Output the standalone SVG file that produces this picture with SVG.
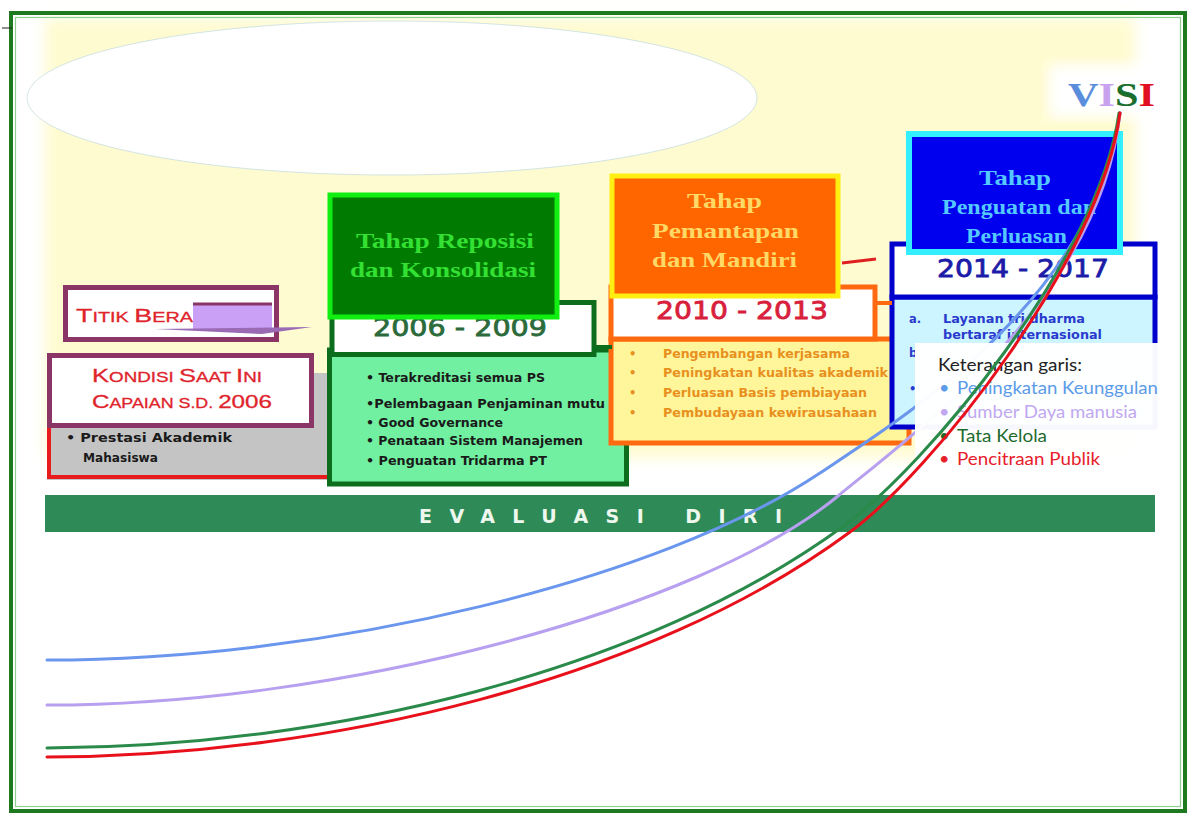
<svg xmlns="http://www.w3.org/2000/svg" width="1188" height="814" viewBox="0 0 1188 814">
<defs>
<filter id="soft" x="-5%" y="-10%" width="110%" height="120%"><feGaussianBlur stdDeviation="7"/></filter>
<style>
.tahap{font-family:"Liberation Serif",serif;font-weight:bold;font-size:22px;text-anchor:start}
.year{font-family:"DejaVu Sans",sans-serif;font-size:25px;stroke-width:0.8}
.li{font-family:"DejaVu Sans",sans-serif;font-weight:bold;font-size:11.5px}
.sc{font-family:"Liberation Sans",sans-serif;fill:#e0242c;stroke:#e0242c;stroke-width:0.3}
.leg{font-family:Lato,"Liberation Sans",sans-serif;font-size:18px}
.curve{fill:none;stroke-width:3;stroke-linecap:round}
</style>
</defs>
<rect x="0" y="0" width="1188" height="814" fill="#ffffff"/>
<g id="background">
<rect x="45" y="18" width="1090" height="440" fill="#fffbd0" filter="url(#soft)"/>
<ellipse cx="392" cy="98" rx="365" ry="77" fill="#ffffff" stroke="#c8dde0" stroke-width="0.8"/>
<rect x="11" y="13" width="1174" height="798" fill="none" stroke="#1e7a1e" stroke-width="4"/>
<rect x="15.5" y="17.5" width="1165" height="789" fill="none" stroke="#8fd08f" stroke-width="1.2"/>
<line x1="2" y1="28" x2="12" y2="28" stroke="#222" stroke-width="1"/>
</g>
<g id="visi">
<rect x="1048" y="64" width="120" height="54" fill="#ffffff" filter="url(#soft)"/>
<text x="1068" y="106" font-family="'Liberation Serif',serif" font-weight="bold" font-size="34" textLength="87" lengthAdjust="spacingAndGlyphs"><tspan fill="#5a8edc">V</tspan><tspan fill="#c8a2ee">I</tspan><tspan fill="#1a6e2e">S</tspan><tspan fill="#e01020">I</tspan></text>
</g>
<g id="evaluasi-diri">
<rect x="45" y="495" width="1110" height="37" fill="#2e8b57"/>
<text x="419" y="523" font-family="'DejaVu Sans',sans-serif" font-weight="bold" font-size="19" fill="#eef8ee" textLength="363" lengthAdjust="spacing">EVALUASI DIRI</text>
</g>
<g id="kondisi">
<rect x="47" y="373" width="282" height="107" fill="#c4c4c4"/>
<polyline points="49,425 49,477 329,477" fill="none" stroke="#e81c1c" stroke-width="4"/>
<rect x="49.5" y="355.5" width="262" height="70" fill="#ffffff" stroke="#8b3466" stroke-width="5"/>
<text class="sc" x="92" y="382" textLength="170" lengthAdjust="spacingAndGlyphs"><tspan font-size="19">K</tspan><tspan font-size="14">ONDISI </tspan><tspan font-size="19">S</tspan><tspan font-size="14">AAT </tspan><tspan font-size="19">I</tspan><tspan font-size="14">NI</tspan></text>
<text class="sc" x="92" y="408" textLength="180" lengthAdjust="spacingAndGlyphs"><tspan font-size="19">C</tspan><tspan font-size="14">APAIAN S.D. </tspan><tspan font-size="19">2006</tspan></text>
<text class="li" x="66" y="442" fill="#1a1a1a" font-size="13" textLength="166" lengthAdjust="spacingAndGlyphs">• Prestasi Akademik</text>
<text class="li" x="83" y="462" fill="#1a1a1a" font-size="13" textLength="75" lengthAdjust="spacingAndGlyphs">Mahasiswa</text>
</g>
<g id="titik-berangkat">
<rect x="65.5" y="287.5" width="211" height="52" fill="#ffffff" stroke="#8b3466" stroke-width="5"/>
<text class="sc" x="76" y="322" textLength="117" lengthAdjust="spacingAndGlyphs"><tspan font-size="19">T</tspan><tspan font-size="14">ITIK </tspan><tspan font-size="19">B</tspan><tspan font-size="14">ERA</tspan></text>
</g>
<g id="tahap-2006">
<rect x="329.5" y="350" width="297" height="134" fill="#70f0a0" stroke="#0c6e1c" stroke-width="5"/>
<rect x="332" y="302.5" width="262" height="52" fill="#ffffff" stroke="#0c6e1c" stroke-width="5"/>
<text class="year" x="373" y="336" fill="#2b6b3b" stroke="#2b6b3b" textLength="174" lengthAdjust="spacingAndGlyphs">2006 - 2009</text>
<rect x="330" y="195" width="227" height="122" fill="#007a00" stroke="#11ee11" stroke-width="5"/>
<text class="tahap" x="356" y="248" fill="#33e033" textLength="178" lengthAdjust="spacingAndGlyphs">Tahap Reposisi</text>
<text class="tahap" x="350" y="277" fill="#33e033" textLength="186" lengthAdjust="spacingAndGlyphs">dan Konsolidasi</text>
<text class="li" x="366" y="382" fill="#1a1a1a" textLength="179" lengthAdjust="spacingAndGlyphs">• Terakreditasi semua PS</text>
<text class="li" x="366" y="408" fill="#1a1a1a" textLength="239" lengthAdjust="spacingAndGlyphs">•Pelembagaan Penjaminan mutu</text>
<text class="li" x="366" y="427" fill="#1a1a1a" textLength="137" lengthAdjust="spacingAndGlyphs">• Good Governance</text>
<text class="li" x="366" y="445" fill="#1a1a1a" textLength="217" lengthAdjust="spacingAndGlyphs">• Penataan Sistem Manajemen</text>
<text class="li" x="366" y="465" fill="#1a1a1a" textLength="181" lengthAdjust="spacingAndGlyphs">• Penguatan Tridarma PT</text>
</g>
<g id="tahap-2010">
<rect x="611" y="339" width="298" height="104" fill="#fff59a" stroke="#ff6a10" stroke-width="5"/>
<rect x="611" y="287" width="264" height="52" fill="#ffffff" stroke="#ff6a10" stroke-width="5"/>
<text class="year" x="656" y="319" fill="#d8203c" stroke="#d8203c" textLength="172" lengthAdjust="spacingAndGlyphs">2010 - 2013</text>
<rect x="612" y="176" width="226" height="120" fill="#ff6600" stroke="#ffee11" stroke-width="5"/>
<text class="tahap" x="687" y="208" fill="#ffd966" textLength="75" lengthAdjust="spacingAndGlyphs">Tahap</text>
<text class="tahap" x="652" y="238" fill="#ffd966" textLength="147" lengthAdjust="spacingAndGlyphs">Pemantapan</text>
<text class="tahap" x="652" y="267" fill="#ffd966" textLength="145" lengthAdjust="spacingAndGlyphs">dan Mandiri</text>
<g class="li" fill="#e8901e">
<text x="629" y="358">•</text><text x="663" y="358" textLength="187" lengthAdjust="spacingAndGlyphs">Pengembangan kerjasama</text>
<text x="629" y="377">•</text><text x="663" y="377" textLength="225" lengthAdjust="spacingAndGlyphs">Peningkatan kualitas akademik</text>
<text x="629" y="397">•</text><text x="663" y="397" textLength="204" lengthAdjust="spacingAndGlyphs">Perluasan Basis pembiayaan</text>
<text x="629" y="417">•</text><text x="663" y="417" textLength="214" lengthAdjust="spacingAndGlyphs">Pembudayaan kewirausahaan</text>
</g>
</g>
<g id="tahap-2014">
<rect x="892" y="297" width="263" height="130" fill="#ccf5ff" stroke="#0000cc" stroke-width="5"/>
<rect x="892" y="244" width="263" height="53" fill="#ffffff" stroke="#0000cc" stroke-width="5"/>
<text class="year" x="937" y="277" fill="#1c1ca8" stroke="#1c1ca8" textLength="172" lengthAdjust="spacingAndGlyphs">2014 - 2017</text>
<rect x="909" y="134" width="211" height="118" fill="#0000ee" stroke="#33eeff" stroke-width="6"/>
<text class="tahap" x="979" y="185" font-size="21" fill="#55c8ff" textLength="72" lengthAdjust="spacingAndGlyphs">Tahap</text>
<text class="tahap" x="942" y="214" font-size="21" fill="#55c8ff" textLength="154" lengthAdjust="spacingAndGlyphs">Penguatan dan</text>
<text class="tahap" x="966" y="243" font-size="21" fill="#55c8ff" textLength="101" lengthAdjust="spacingAndGlyphs">Perluasan</text>
<g class="li" fill="#2a3acc" font-size="11">
<text x="909" y="323">a.</text><text x="943" y="323" textLength="142" lengthAdjust="spacingAndGlyphs">Layanan tri dharma</text>
<text x="943" y="339" textLength="159" lengthAdjust="spacingAndGlyphs">bertaraf internasional</text>
<text x="909" y="357">b</text>
<text x="909" y="393">•</text>
</g>
</g>
<g id="connectors">
<line x1="595" y1="347" x2="612" y2="347" stroke="#0c6e1c" stroke-width="4"/>
<line x1="877" y1="303" x2="892" y2="303" stroke="#ff6a10" stroke-width="4"/>
<line x1="842" y1="263" x2="876" y2="259" stroke="#e02020" stroke-width="3"/>
<rect x="193" y="303" width="79" height="27" fill="#c9a0f5"/>
<line x1="193" y1="304" x2="272" y2="304" stroke="#8b3466" stroke-width="3"/>
<path d="M155,329 L312,327 L262,334 Z" fill="#9a6ab5"/>
<path class="curve" d="M47,660 C330,660 660,580 820,473 C900,419.5 1095,300 1120,113" stroke="#6a96ee"/>
<path class="curve" d="M47,705 C340,705 700,610 838,496 C908,438 1100,300 1120,113" stroke="#b8a0f0"/>
</g>
<g id="legend">
<rect x="915" y="343" width="253" height="142" fill="#ffffff" opacity="0.97"/>
<text class="leg" x="938" y="371" fill="#222222" textLength="144" lengthAdjust="spacingAndGlyphs">Keterangan garis:</text>
<text class="leg" x="939" y="394" fill="#5b9be8">•</text><text class="leg" x="957" y="394" fill="#5b9be8" textLength="201" lengthAdjust="spacingAndGlyphs">Peningkatan Keunggulan</text>
<text class="leg" x="939" y="418" fill="#c0a8f0">•</text><text class="leg" x="957" y="418" fill="#c0a8f0" textLength="180" lengthAdjust="spacingAndGlyphs">Sumber Daya manusia</text>
<text class="leg" x="939" y="442" fill="#1e6b2e">•</text><text class="leg" x="957" y="442" fill="#1e6b2e" textLength="90" lengthAdjust="spacingAndGlyphs">Tata Kelola</text>
<text class="leg" x="939" y="465" fill="#e8202a">•</text><text class="leg" x="957" y="465" fill="#e8202a" textLength="143" lengthAdjust="spacingAndGlyphs">Pencitraan Publik</text>
</g>
<g id="connectors-front">
<path class="curve" d="M47,748 C330,747 645,672 845,525 C925,466 1098,262 1119,113" stroke="#2a8a4a"/>
<path class="curve" d="M47,757 C330,756 650,680 850,532 C930,473 1100,262 1120,113" stroke="#e8101a"/>
</g>
</svg>
